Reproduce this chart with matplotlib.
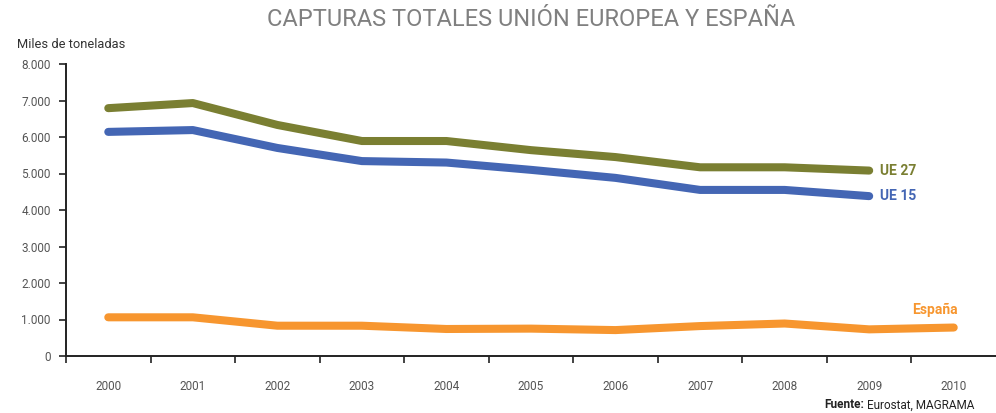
import numpy as np
import matplotlib.pyplot as plt
from matplotlib.ticker import FuncFormatter

years = ["2000", "2001", "2002", "2003", "2004", "2005", "2006", "2007", "2008", "2009", "2010"]
ue27 = [6790, 6930, 6330, 5890, 5890, 5640, 5450, 5170, 5170, 5080]
ue15 = [6140, 6190, 5700, 5340, 5300, 5100, 4880, 4550, 4550, 4380]
espana = [1060, 1060, 830, 830, 740, 750, 710, 820, 890, 730, 780]

col27 = "#7a7f32"
col15 = "#4466b4"
colesp = "#f7962f"
gray = "#555555"

plt.rcParams["font.family"] = ["Roboto", "DejaVu Sans"]

fig = plt.figure(figsize=(9.96, 4.13), dpi=100)
ax = fig.add_axes([66/996, 1 - 356/413, 930/996, 292/413])

lw = 5.8
ax.plot(range(len(ue27)), ue27, color=col27, lw=lw, solid_capstyle="round", solid_joinstyle="round")
ax.plot(range(len(ue15)), ue15, color=col15, lw=lw, solid_capstyle="round", solid_joinstyle="round")
ax.plot(range(len(espana)), espana, color=colesp, lw=lw, solid_capstyle="round", solid_joinstyle="round")

ax.text(9.13, ue27[-1], "UE 27", color=col27, fontsize=10, fontweight="bold", va="center", ha="left")
ax.text(9.13, ue15[-1], "UE 15", color=col15, fontsize=10, fontweight="bold", va="center", ha="left")
ax.text(10.05, 1270, "España", color=colesp, fontsize=10, fontweight="bold", va="center", ha="right")

ax.set_xlim(-0.5, 10.5)
ax.set_ylim(0, 8000)
ax.set_yticks(np.arange(0, 8001, 1000))
ax.yaxis.set_major_formatter(FuncFormatter(lambda v, p: "{:,.0f}".format(v).replace(",", ".")))
ax.set_xticks(range(len(years)))
ax.set_xticklabels(years)
ax.set_xticks(np.arange(-0.5, 10.0, 1), minor=True)
ax.tick_params(axis="x", which="major", length=0, pad=17, labelsize=8.5, labelcolor=gray)
ax.tick_params(axis="x", which="minor", length=5, width=1.2, direction="out", color="#222222")
ax.tick_params(axis="y", length=5, width=1.2, color="#222222", labelsize=8.5, labelcolor=gray, pad=6)

for s in ["top", "right"]:
    ax.spines[s].set_visible(False)
for s in ["left", "bottom"]:
    ax.spines[s].set_linewidth(1.4)
    ax.spines[s].set_color("#222222")

fig.text(531/996, 1 - 20/413, "CAPTURAS TOTALES UNIÓN EUROPEA Y ESPAÑA", ha="center", va="center",
         fontsize=17, color="#808080")
fig.text(17/996, 1 - 44/413, "Miles de toneladas", ha="left", va="center", fontsize=9.3, color="#333333")
t = fig.text(824/996, 1 - 405/413, "Fuente:", ha="left", va="center", fontsize=8.5,
             fontweight="bold", color="#222222")
fig.canvas.draw()
bb = t.get_window_extent()
fig.text(bb.x1/996 + 3/996, 1 - 405/413, "Eurostat, MAGRAMA", ha="left", va="center",
         fontsize=8.5, color="#222222")

plt.savefig("out.png", dpi=100)
